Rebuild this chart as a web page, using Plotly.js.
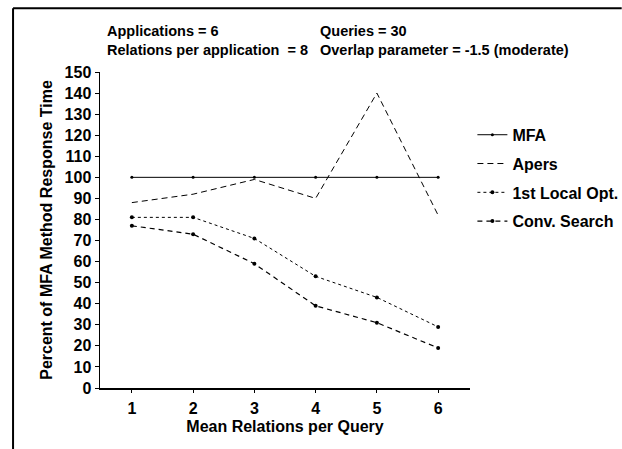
<!DOCTYPE html>
<html>
<head>
<meta charset="utf-8">
<script src="https://cdn.plot.ly/plotly-3.0.1.min.js"></script>
<style>html,body{margin:0;padding:0;background:#fff;}#chart{width:622px;height:449px;}</style>
</head>
<body>
<div id="chart"></div>
<script>
const meanRelations = [1, 2, 3, 4, 5, 6];
const mfa = [100, 100, 100, 100, 100, 100];
const apers = [88, 92, 99, 90, 140, 82];
const localOpt = [81, 81, 71, 53, 43, 29];
const convSearch = [77, 73, 59, 39, 31, 19];
const seriesNames = ["MFA", "Apers", "1st Local Opt.", "Conv. Search"];
const yTicks = [0, 10, 20, 30, 40, 50, 60, 70, 80, 90, 100, 110, 120, 130, 140, 150];
const notes = ["Applications = 6", "Queries = 30", "Relations per application  = 8", "Overlap parameter = -1.5 (moderate)"];

const FONT = "Liberation Sans, Arial, Helvetica, sans-serif";
const traces = [
  {x: meanRelations, y: mfa, name: seriesNames[0], legendgroup: "a", mode: "lines+markers",
   line: {color: "#000", width: 1, dash: "solid"}, marker: {color: "#000", size: 3}},
  {x: meanRelations, y: apers, name: seriesNames[1], legendgroup: "b", mode: "lines",
   line: {color: "#000", width: 1, dash: "6px,4px"}},
  {x: meanRelations, y: localOpt, name: seriesNames[2], legendgroup: "c", mode: "lines+markers",
   line: {color: "#000", width: 1, dash: "dot"}, marker: {color: "#000", size: 4}},
  {x: meanRelations, y: convSearch, name: seriesNames[3], legendgroup: "d", mode: "lines+markers",
   line: {color: "#000", width: 1.2, dash: "5px,4px"}, marker: {color: "#000", size: 4}}
];

const annFont = {family: FONT, size: 14.5, color: "#000", weight: "bold"};
const layout = {
  width: 622, height: 449,
  margin: {l: 100, r: 152, t: 72, b: 61, autoexpand: false},
  paper_bgcolor: "#fff", plot_bgcolor: "#fff",
  showlegend: true,
  legend: {x: 1.0065, y: 0.855, xanchor: "left", yanchor: "top",
           font: {family: FONT, size: 16, color: "#000", weight: "bold"},
           bgcolor: "rgba(0,0,0,0)", itemwidth: 30, traceorder: "grouped", tracegroupgap: 5},
  xaxis: {range: [0.48, 6.52], tickvals: meanRelations, ticktext: meanRelations.map(String),
          showgrid: false, zeroline: false, showline: true, linecolor: "#000", linewidth: 1.5,
          ticks: "outside", ticklen: 3, tickcolor: "#000", ticklabelstandoff: 2,
          tickfont: {family: FONT, size: 16, color: "#000", weight: "bold"},
          title: {text: "Mean Relations per Query", standoff: 5,
                  font: {family: FONT, size: 16, color: "#000", weight: "bold"}}},
  yaxis: {range: [0, 150], tickvals: yTicks, ticktext: yTicks.map(String),
          showgrid: false, zeroline: false, showline: true, linecolor: "#000", linewidth: 1.5,
          ticks: "outside", ticklen: 4, tickcolor: "#000",
          tickfont: {family: FONT, size: 16, color: "#000", weight: "bold"},
          title: {text: "Percent of MFA Method Response Time", standoff: 8,
                  font: {family: FONT, size: 16, color: "#000", weight: "bold"}}},
  annotations: [
    {text: notes[0], xref: "paper", yref: "paper", x: 0.0135, y: 1.13, xanchor: "left", yanchor: "middle", showarrow: false, font: annFont},
    {text: notes[1], xref: "paper", yref: "paper", x: 0.589, y: 1.13, xanchor: "left", yanchor: "middle", showarrow: false, font: annFont},
    {text: notes[2], xref: "paper", yref: "paper", x: 0.0135, y: 1.07, xanchor: "left", yanchor: "middle", showarrow: false, font: annFont},
    {text: notes[3], xref: "paper", yref: "paper", x: 0.589, y: 1.07, xanchor: "left", yanchor: "middle", showarrow: false, font: annFont}
  ],
  shapes: [
    {type: "line", xref: "paper", yref: "paper", x0: -0.235, x1: 1.41, y0: 1.202, y1: 1.202, line: {color: "#000", width: 2}},
    {type: "line", xref: "paper", yref: "paper", x0: -0.235, x1: -0.235, y0: 1.202, y1: -0.2, line: {color: "#000", width: 2}}
  ]
};
Plotly.newPlot("chart", traces, layout, {displayModeBar: false, staticPlot: true});
</script>
</body>
</html>
